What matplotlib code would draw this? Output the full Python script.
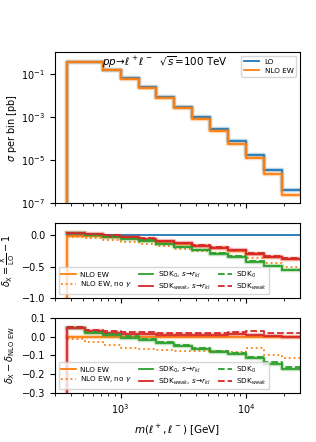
import matplotlib.pyplot as plt
import numpy as np

# bin edges in m(l+,l-) [GeV]
edges = [373, 518, 720, 1000, 1389, 1931, 2683, 3728, 5179, 7197, 10000, 13895, 19307, 26827]

# LO cross section per bin [pb]
lo = [0.355, 0.35, 0.155, 0.060, 0.0229, 8.1e-3, 2.95e-3, 9.3e-4, 2.8e-4, 7.5e-5, 1.7e-5, 3.2e-6, 3.9e-7]

# relative NLO EW correction (middle panel, orange solid)
delta_nlo = [-0.01, -0.016, -0.026, -0.047, -0.068, -0.105, -0.137, -0.174, -0.21, -0.25, -0.305, -0.347, -0.384]

# differences to NLO EW (bottom panel)
diff_nogamma = [-0.015, -0.031, -0.046, -0.059, -0.068, -0.071, -0.075, -0.078, -0.079, -0.08, -0.06, -0.097, -0.116]
diff_sdk0_rkl = [0.044, 0.018, 0.006, -0.005, -0.02, -0.036, -0.05, -0.066, -0.083, -0.095, -0.116, -0.148, -0.175]
diff_sdkw_rkl = [0.044, 0.03, 0.02, 0.016, 0.014, 0.011, 0.011, 0.009, 0.009, 0.012, 0.008, 0.004, 0.0]
diff_sdk0 = [0.05, 0.026, 0.013, 0.002, -0.012, -0.028, -0.043, -0.059, -0.075, -0.088, -0.108, -0.137, -0.163]
diff_sdkw = [0.05, 0.036, 0.03, 0.027, 0.023, 0.021, 0.02, 0.02, 0.018, 0.023, 0.029, 0.018, 0.018]

lo = np.array(lo)
delta_nlo = np.array(delta_nlo)
nlo = lo * (1 + delta_nlo)
delta_lo = lo / lo - 1

diffs = {
    'nogamma': np.array(diff_nogamma),
    'sdk0_rkl': np.array(diff_sdk0_rkl),
    'sdkw_rkl': np.array(diff_sdkw_rkl),
    'sdk0': np.array(diff_sdk0),
    'sdkw': np.array(diff_sdkw),
}


def hist(ax, vals, base=None, band=False, **kw):
    # step line over the bins, optional drop to a baseline at the first edge
    x = np.r_[edges[0], edges]
    start = vals[0] if base is None else base
    y = np.r_[start, vals, vals[-1]]
    if band:
        ax.step(x, y, where='post', lw=3.2, alpha=0.3, color=kw['color'])
    return ax.step(x, y, where='post', **kw)[0]


fig = plt.figure(figsize=(3.16, 4.42), dpi=100)
ax1 = fig.add_axes([0.174, 0.541, 0.775, 0.341])
ax2 = fig.add_axes([0.174, 0.326, 0.775, 0.170], sharex=ax1)
ax3 = fig.add_axes([0.174, 0.111, 0.775, 0.170], sharex=ax1)

fs = 7
lw = 1.3
leg_kw = dict(loc='lower left', ncol=3, fontsize=5.2, handlelength=2.0,
              borderpad=0.35, labelspacing=0.25, columnspacing=1.0, handletextpad=0.6)

# --- top panel
ax1.set_xscale('log')
ax1.set_yscale('log')
hist(ax1, lo, base=1e-12, band=True, color='C0', lw=lw, label='LO')
hist(ax1, nlo, base=1e-12, band=True, color='C1', lw=lw, label='NLO EW')
ax1.set_ylim(1e-7, 1)
ax1.set_yticks([1e-7, 1e-5, 1e-3, 1e-1])
ax1.yaxis.set_minor_locator(plt.NullLocator())
ax1.set_ylabel(r'$\sigma$ per bin [pb]', fontsize=fs)
ax1.yaxis.set_label_coords(-0.145, 0.5)
ax1.legend(loc='upper right', fontsize=5.2, handlelength=2.0, borderpad=0.4, labelspacing=0.4)
ax1.text(0.45, 0.93, r'$pp\!\to\!\ell^+\ell^-$  $\sqrt{s}$=100 TeV',
         transform=ax1.transAxes, ha='center', va='center', fontsize=7.5)

# --- middle panel
hist(ax2, delta_lo, color='C0', lw=lw)
mid = [
    hist(ax2, delta_nlo, base=-2, band=True, color='C1', lw=lw, label='NLO EW'),
    hist(ax2, delta_nlo + diffs['nogamma'], color='C1', lw=lw, ls=':', label=r'NLO EW, no $\gamma$'),
    hist(ax2, delta_nlo + diffs['sdk0_rkl'], band=True, color='C2', lw=lw, label=r'SDK$_0$, $s\!\to\!r_{kl}$'),
    hist(ax2, delta_nlo + diffs['sdkw_rkl'], band=True, color='C3', lw=lw, label=r'SDK$_{weak}$, $s\!\to\!r_{kl}$'),
    hist(ax2, delta_nlo + diffs['sdk0'], color='C2', lw=lw, ls='--', label=r'SDK$_0$'),
    hist(ax2, delta_nlo + diffs['sdkw'], color='C3', lw=lw, ls='--', label=r'SDK$_{weak}$'),
]
ax2.set_ylim(-1.0, 0.2)
ax2.set_yticks([-1.0, -0.5, 0.0])
ax2.set_ylabel(r'$\delta_{\rm X}=\frac{\rm X}{\rm LO}-1$', fontsize=fs)
ax2.yaxis.set_label_coords(-0.155, 0.5)
ax2.legend(handles=mid, **leg_kw)

# --- bottom panel
zero = delta_nlo - delta_nlo
bot = [
    hist(ax3, zero, band=True, color='C1', lw=lw, label='NLO EW'),
    hist(ax3, diffs['nogamma'], color='C1', lw=lw, ls=':', label=r'NLO EW, no $\gamma$'),
    hist(ax3, diffs['sdk0_rkl'], band=True, color='C2', lw=lw, label=r'SDK$_0$, $s\!\to\!r_{kl}$'),
    hist(ax3, diffs['sdkw_rkl'], base=-2, band=True, color='C3', lw=lw, label=r'SDK$_{weak}$, $s\!\to\!r_{kl}$'),
    hist(ax3, diffs['sdk0'], color='C2', lw=lw, ls='--', label=r'SDK$_0$'),
    hist(ax3, diffs['sdkw'], color='C3', lw=lw, ls='--', label=r'SDK$_{weak}$'),
]
ax3.set_ylim(-0.3, 0.1)
ax3.set_yticks([-0.3, -0.2, -0.1, 0.0, 0.1])
ax3.set_ylabel(r'$\delta_{\rm X}-\delta_{\rm NLO\ EW}$', fontsize=fs)
ax3.yaxis.set_label_coords(-0.155, 0.5)
ax3.set_xlabel(r'$m(\ell^+,\ell^-)$ [GeV]', fontsize=fs + 0.5)
ax3.legend(handles=bot, **leg_kw)

ax1.set_xlim(300, edges[-1])
for ax in (ax1, ax2, ax3):
    ax.tick_params(labelsize=fs)
for ax in (ax1, ax2):
    ax.tick_params(labelbottom=False)

plt.savefig('out.png', dpi=100)
